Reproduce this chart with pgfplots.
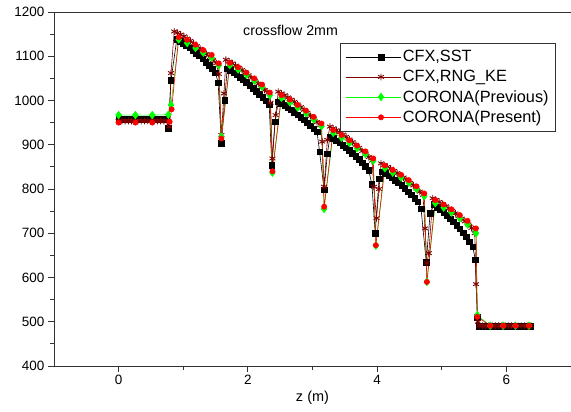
\documentclass[border=0pt]{standalone}
\usepackage{fontspec}
\setmainfont{Liberation Sans}
\usepackage{pgfplots}
\pgfplotsset{compat=1.18}
\definecolor{cfxsst}{HTML}{000000}
\definecolor{cfxrng}{HTML}{800000}
\definecolor{corprev}{HTML}{00FF00}
\definecolor{corpres}{HTML}{FF0000}
\pgfplotsset{mylegend/.style={legend image code/.code={%
    \path (0pt,0pt) -- (16pt,0pt);
    \draw[mark repeat=2,mark phase=2] plot coordinates {(16pt,0pt) (35.5pt,0pt) (55pt,0pt)};}}}
\begin{document}
\begin{tikzpicture}
\begin{axis}[
  scale only axis, width=517pt, height=354pt,
  xmin=-1, xmax=7, ymin=400, ymax=1200,
  axis x line*=box, axis y line*=left,
  xtick pos=left, ytick pos=left,
  axis line style={black!80, line width=0.8pt},
  every tick/.style={black!80, line width=0.8pt},
  tick align=outside,
  major tick length=6pt, minor tick length=4pt,
  xtick={0,2,4,6}, minor xtick={1,3,5},
  ytick={400,500,...,1200}, minor ytick={450,550,...,1150},
  tick label style={font=\fontsize{13.5}{16}\selectfont},
  /pgf/number format/assume math mode=true,
  /pgf/number format/1000 sep={},
  xlabel={z (m)},
  xlabel style={font=\fontsize{14.5}{16}\selectfont, at={(axis description cs:0.5,0)}, anchor=center, yshift=-32pt},
  legend style={at={(0.553,0.913)}, anchor=north west, draw=black!80, line width=0.6pt,
    font=\fontsize{16.3}{18}\selectfont, inner xsep=5pt, inner ysep=5.5pt, row sep=3pt},
  legend cell align=left,
  clip=false,
]
% CFX, SST
\addplot[cfxsst, line width=0.6pt, mark=square*, mark size=2.8pt, mark options={solid}, mylegend] coordinates {
(0.00,957)(0.05,957)(0.10,957)(0.15,957)(0.20,957)(0.25,957)(0.30,957)(0.35,957)(0.40,957)(0.45,957)(0.50,957)(0.55,957)(0.60,957)(0.65,957)(0.70,957)(0.74,956)
(0.77,937)(0.81,1046)
(0.90,1138)(0.95,1134)(1.00,1129)(1.05,1124)(1.10,1119)(1.15,1113)(1.20,1107)(1.25,1101)(1.30,1094)(1.35,1087)(1.40,1080)(1.45,1072)(1.50,1063)
(1.54,1040)(1.59,903)(1.64,1000)
(1.68,1072)(1.73,1068)(1.78,1063)(1.83,1058)(1.88,1053)(1.93,1047)(1.98,1041)(2.03,1035)(2.08,1028)(2.13,1021)(2.18,1014)(2.23,1007)(2.28,999)
(2.33,990)(2.37,854)(2.42,952)
(2.47,997)(2.52,993)(2.57,989)(2.62,984)(2.67,979)(2.72,974)(2.77,968)(2.82,962)(2.87,956)(2.92,950)(2.97,943)(3.02,936)(3.07,929)
(3.11,884)(3.18,798)(3.23,880)
(3.27,918)(3.32,914)(3.37,909)(3.42,904)(3.47,899)(3.52,893)(3.57,887)(3.62,881)(3.67,874)(3.72,867)(3.77,859)(3.82,851)(3.87,842)
(3.92,810)(3.97,700)(4.03,823)
(4.08,839)(4.13,835)(4.18,830)(4.23,825)(4.28,820)(4.33,814)(4.38,808)(4.43,801)(4.48,794)(4.53,787)(4.58,779)(4.63,771)
(4.68,755)(4.76,635)(4.82,745)
(4.88,765)(4.93,759)(4.98,753)(5.03,747)(5.08,740)(5.13,733)(5.18,726)(5.23,718)(5.28,710)(5.33,701)(5.38,692)(5.43,681)(5.48,669)
(5.52,640)(5.55,510)
(5.58,490)(5.63,490)(5.68,490)(5.73,490)(5.78,490)(5.83,490)(5.88,490)(5.93,490)(5.98,490)(6.03,490)(6.08,490)(6.13,490)(6.18,490)(6.23,490)(6.28,490)(6.33,490)(6.38,490)
};
\addlegendentry{CFX,SST}
% CFX, RNG_KE
\addplot[cfxrng, line width=0.6pt, mark=asterisk, mark size=3.4pt, mark options={solid, line width=0.9pt}, mylegend] coordinates {
(0.00,954)(0.05,954)(0.10,954)(0.15,954)(0.20,954)(0.25,954)(0.30,954)(0.35,954)(0.40,954)(0.45,954)(0.50,954)(0.55,954)(0.60,954)(0.65,954)(0.70,954)(0.75,954)
(0.78,941)(0.81,1062)
(0.86,1156)(0.91,1153)(0.96,1149)(1.01,1145)(1.06,1140)(1.11,1135)(1.16,1129)(1.21,1123)(1.26,1117)(1.31,1111)(1.36,1105)(1.41,1098)(1.46,1091)(1.51,1084)
(1.55,1060)(1.59,922)(1.63,1016)
(1.66,1092)(1.71,1088)(1.76,1084)(1.81,1079)(1.86,1074)(1.91,1069)(1.96,1063)(2.01,1057)(2.06,1051)(2.11,1045)(2.16,1038)(2.21,1031)(2.26,1024)(2.31,1017)
(2.35,995)(2.38,869)(2.43,967)
(2.47,1020)(2.52,1016)(2.57,1012)(2.62,1007)(2.67,1002)(2.72,997)(2.77,991)(2.82,985)(2.87,979)(2.92,972)(2.97,965)(3.02,958)(3.07,951)(3.12,944)
(3.15,907)(3.18,805)(3.23,911)
(3.27,941)(3.32,937)(3.37,933)(3.42,928)(3.47,923)(3.52,918)(3.57,912)(3.62,906)(3.67,900)(3.72,893)(3.77,886)(3.82,879)(3.87,872)(3.92,864)
(3.95,805)(3.99,734)(4.03,800)
(4.06,858)(4.11,854)(4.16,850)(4.21,846)(4.26,841)(4.31,836)(4.36,831)(4.41,826)(4.46,820)(4.51,814)(4.56,808)(4.61,801)(4.66,794)(4.71,787)
(4.74,711)(4.77,633)(4.80,655)
(4.86,779)(4.91,775)(4.96,771)(5.01,766)(5.06,761)(5.11,756)(5.16,751)(5.21,745)(5.26,739)(5.31,733)(5.36,727)(5.41,720)(5.46,712)
(5.51,700)(5.53,585)(5.56,500)
(5.58,491)(5.63,491)(5.68,491)(5.73,491)(5.78,491)(5.83,491)(5.88,491)(5.93,491)(5.98,491)(6.03,491)(6.08,491)(6.13,491)(6.18,491)(6.23,491)(6.28,491)(6.33,491)(6.38,491)
};
\addlegendentry{CFX,RNG\_KE}
% CORONA (Previous)
\addplot[corprev, line width=0.6pt, mark=diamond*, mark size=3.8pt, mark options={solid}, mylegend] coordinates {
(0.00,967)(0.26,967)(0.52,967)(0.77,968)(0.81,990)
(0.93,1138)(1.06,1130)(1.19,1119)(1.31,1108)(1.44,1097)(1.55,1080)(1.59,918)
(1.72,1080)(1.85,1070)(1.98,1058)(2.10,1045)(2.22,1031)(2.34,1012)(2.38,837)
(2.52,1006)(2.65,996)(2.77,984)(2.90,971)(3.02,957)(3.14,942)(3.18,755)
(3.32,927)(3.45,916)(3.57,904)(3.69,892)(3.82,879)(3.94,864)(3.98,672)
(4.12,847)(4.24,837)(4.37,826)(4.49,814)(4.61,800)(4.73,784)(4.77,590)
(4.90,768)(5.03,758)(5.15,747)(5.28,734)(5.40,720)(5.53,700)(5.55,515)
(5.75,491)(5.95,491)(6.14,491)(6.35,491)
};
\addlegendentry{CORONA(Previous)}
% CORONA (Present)
\addplot[corpres, line width=0.6pt, mark=*, mark size=2.6pt, mark options={solid}, mylegend] coordinates {
(0.00,950)(0.26,950)(0.52,950)(0.79,952)(0.82,980)
(0.93,1143)(1.06,1137)(1.19,1126)(1.31,1114)(1.44,1103)(1.55,1084)(1.59,914)
(1.72,1085)(1.85,1075)(1.98,1063)(2.10,1050)(2.22,1036)(2.34,1018)(2.38,840)
(2.52,1012)(2.65,1002)(2.77,990)(2.90,977)(3.02,963)(3.14,948)(3.18,760)
(3.32,933)(3.45,922)(3.57,910)(3.69,898)(3.82,885)(3.94,869)(3.98,673)
(4.12,853)(4.24,843)(4.37,832)(4.49,820)(4.61,806)(4.73,790)(4.77,590)
(4.90,775)(5.03,765)(5.15,754)(5.28,741)(5.40,728)(5.53,711)(5.55,511)
(5.75,491)(5.95,491)(6.14,491)(6.35,491)
};
\addlegendentry{CORONA(Present)}
\node[font=\fontsize{14.2}{16}\selectfont] at (axis cs:2.66,1159) {crossflow 2mm};
\end{axis}
\pgfresetboundingbox
\path[use as bounding box] ([shift={(-54pt,-45pt)}]current axis.south west) rectangle ([shift={(0pt,12pt)}]current axis.north east);
\end{tikzpicture}
\end{document}
